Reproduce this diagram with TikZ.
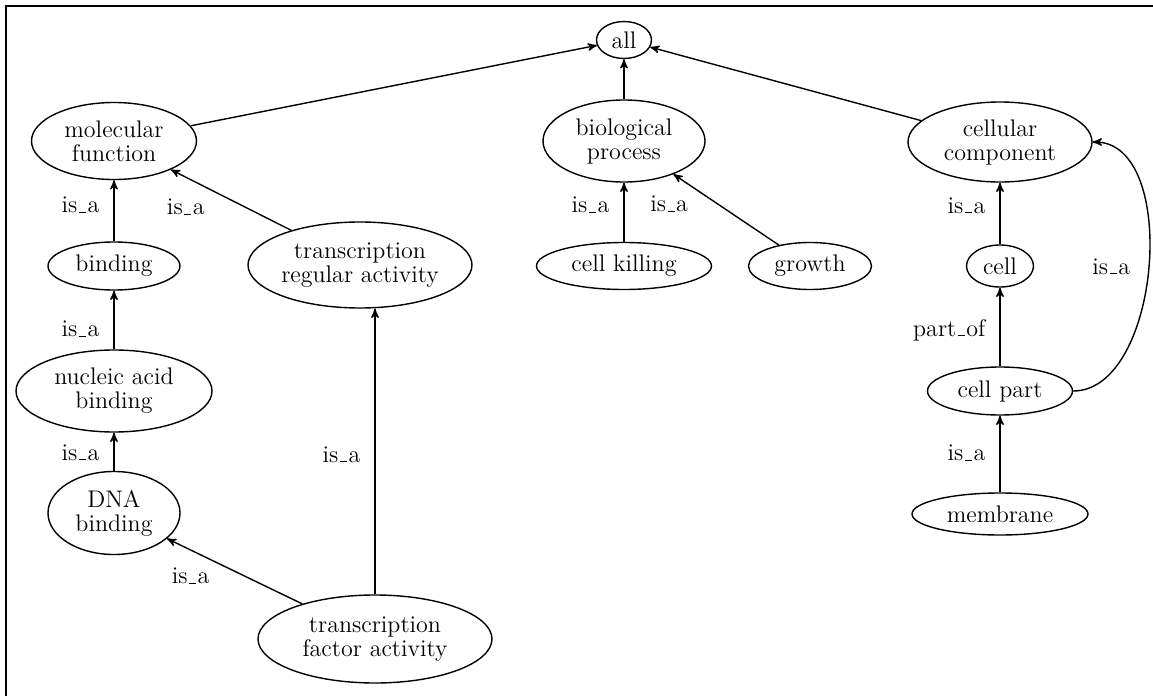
\documentclass[tikz,border=0pt]{standalone}
\usetikzlibrary{arrows,shapes.geometric}

\newcommand\lowbar{\leavevmode\kern.06em\vbox{\hrule width.3em}\kern.06em}

\begin{document}
\begin{tikzpicture}[x=0.5pt,y=-0.5pt,->,>=stealth',line width=0.7pt,
  term/.style={ellipse,draw,inner sep=0pt,align=center,font=\fontsize{12}{12}\selectfont},
  rel/.style={inner sep=1pt,font=\fontsize{12}{12}\selectfont}]
\useasboundingbox (0,0) rectangle (1153,696);
\draw[-,line width=1pt] (6,696) -- (6,6) -- (1153,6);

\node[term,minimum width=27.5pt,minimum height=18.5pt](all) at (624,40) {all};
\node[term,minimum width=82.5pt,minimum height=38.5pt](molfunc) at (114,141) {molecular\\function};
\node[term,minimum width=66pt,minimum height=24pt](binding) at (114,266) {binding};
\node[term,minimum width=112pt,minimum height=43pt](tra) at (360,265) {transcription\\regular activity};
\node[term,minimum width=98pt,minimum height=41pt](nucleic) at (114,391) {nucleic acid\\binding};
\node[term,minimum width=66pt,minimum height=41.5pt](dna) at (114,513) {DNA\\binding};
\node[term,minimum width=117pt,minimum height=44pt](tfa) at (375,639) {transcription\\factor activity};
\node[term,minimum width=81pt,minimum height=41pt](bioproc) at (624,141) {biological\\process};
\node[term,minimum width=87.5pt,minimum height=23.5pt](killing) at (624,266) {cell killing};
\node[term,minimum width=61.5pt,minimum height=23.5pt](growth) at (810,266) {growth};
\node[term,minimum width=92pt,minimum height=40pt](cellcomp) at (1000,142) {cellular\\component};
\node[term,minimum width=33.5pt,minimum height=21pt](cell) at (1000,266) {cell};
\node[term,minimum width=72.5pt,minimum height=24pt](cellpart) at (1000,391) {cell part};
\node[term,minimum width=88pt,minimum height=21pt](membrane) at (1000,514) {membrane};

\path
(molfunc) edge (all)
(bioproc) edge (all)
(cellcomp) edge (all)
(binding) edge node[rel,left=6pt,pos=.6] {is\lowbar a} (molfunc)
(tra) edge node[rel,left=18.5pt,pos=.39] {is\lowbar a} (molfunc)
(nucleic) edge node[rel,left=6pt,pos=.35] {is\lowbar a} (binding)
(dna) edge node[rel,left=6pt,pos=.48] {is\lowbar a} (nucleic)
(tfa) edge node[rel,left=16pt,pos=.43] {is\lowbar a} (dna)
(tfa) edge node[rel,left=6pt,pos=.49] {is\lowbar a} (tfa |- tra.south)
(killing) edge node[rel,left=6pt,pos=.62] {is\lowbar a} (bioproc)
(growth) edge node[rel,left=13.5pt,pos=.58] {is\lowbar a} (bioproc)
(cell) edge node[rel,left=6pt,pos=.63] {is\lowbar a} (cellcomp)
(cellpart) edge node[rel,left=6pt,pos=.46] {part\lowbar of} (cell)
(cellpart) edge[out=0,in=0,looseness=.9] node[rel,left=8pt] {is\lowbar a} (cellcomp)
(membrane) edge node[rel,left=6pt,pos=.51] {is\lowbar a} (cellpart);

\end{tikzpicture}
\end{document}
